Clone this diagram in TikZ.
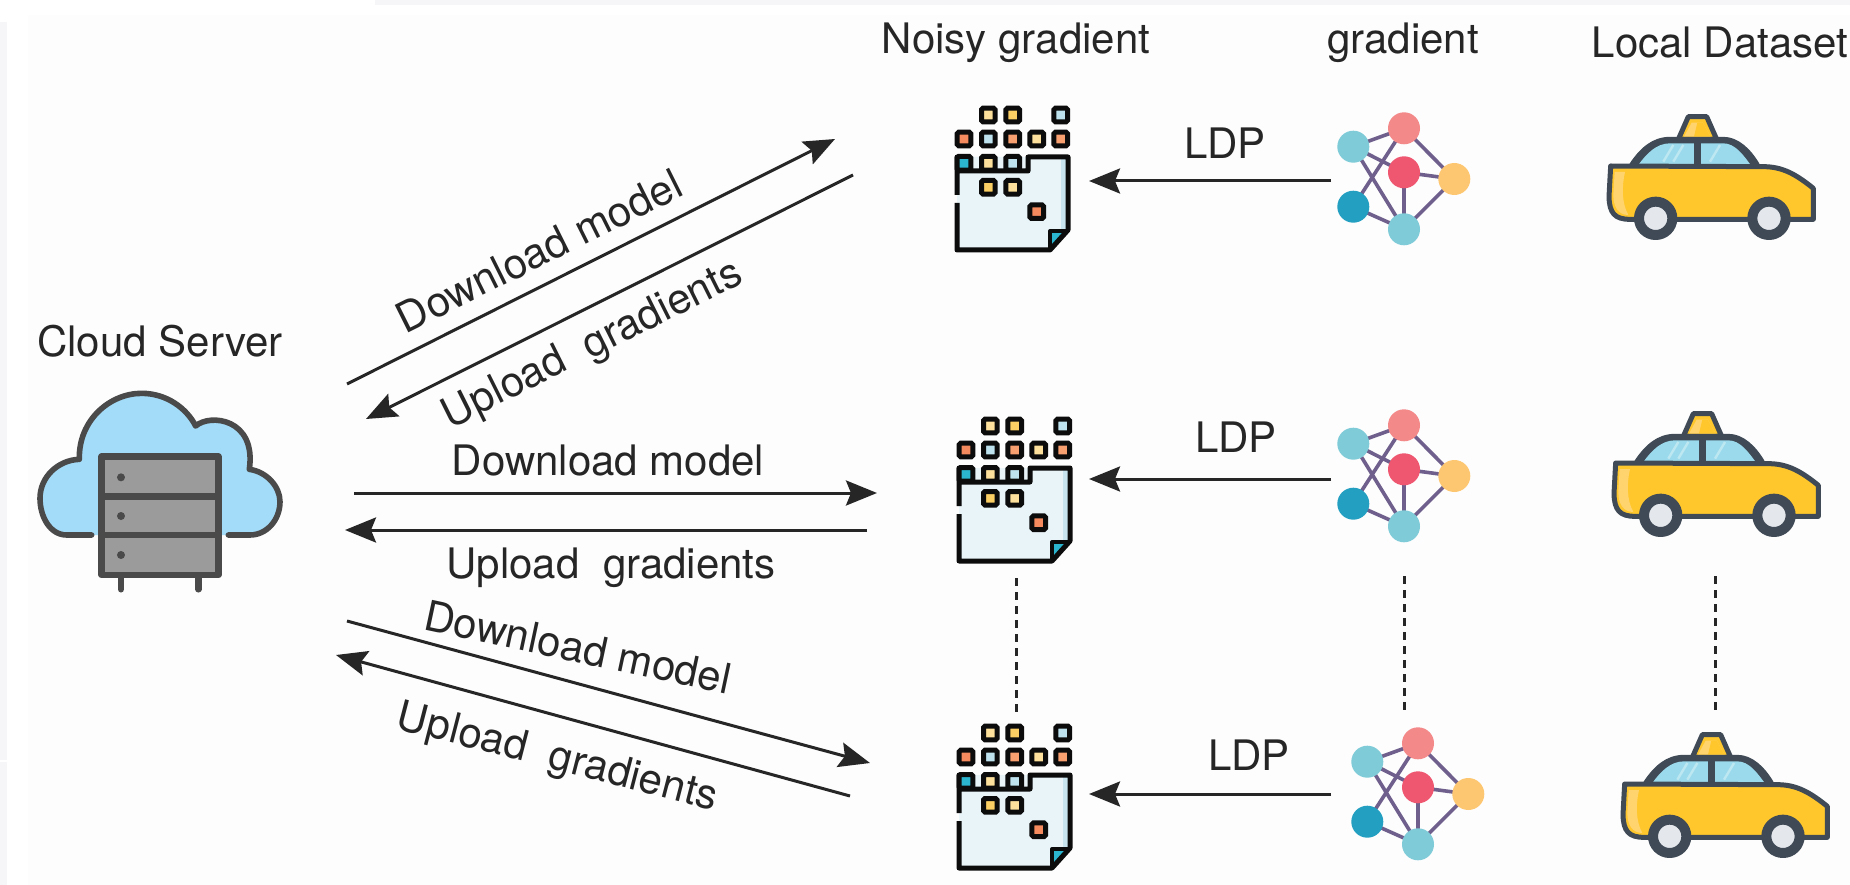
\documentclass[tikz,border=0pt]{standalone}
\usepackage{fontspec}
\setmainfont{TeX Gyre Heros}
\usetikzlibrary{arrows.meta}
\definecolor{ink}{HTML}{262626}
\definecolor{bgc}{HTML}{FDFDFD}
\definecolor{edgeg}{HTML}{F6F6F8}
\definecolor{docline}{HTML}{0C0C0C}
\definecolor{docfill}{HTML}{E9F4F9}
\definecolor{docside}{HTML}{C8E4EF}
\definecolor{teal}{HTML}{2BB5CF}
\definecolor{sqa}{HTML}{FCE09B}
\definecolor{sqb}{HTML}{FBCF63}
\definecolor{sqc}{HTML}{BEE3EF}
\definecolor{sqd}{HTML}{F58A5F}
\definecolor{sqe}{HTML}{F9A071}
\definecolor{netl}{HTML}{6E5F8C}
\definecolor{nteal}{HTML}{7FCBD8}
\definecolor{nsal}{HTML}{F4898A}
\definecolor{nred}{HTML}{EF5670}
\definecolor{nora}{HTML}{FDC772}
\definecolor{nblue}{HTML}{239FC1}
\definecolor{cab}{HTML}{FFC72C}
\definecolor{cabl}{HTML}{FFD46E}
\definecolor{cabo}{HTML}{3F4A56}
\definecolor{glass}{HTML}{9BDAEC}
\definecolor{glint}{HTML}{BDE7F1}
\definecolor{hub}{HTML}{E4E7EC}
\definecolor{cloudf}{HTML}{A3DCF8}
\definecolor{srvl}{HTML}{4A4A4A}
\definecolor{srvf}{HTML}{9B9B9B}
\newcommand{\dsq}[3]{\filldraw[docsq,fill=#3] (#1-6.8,#2-6.8) rectangle (#1+6.8,#2+6.8);}
\tikzset{
  x=1pt,y=-1pt,
  lbl/.style={inner sep=0pt,text=ink,font=\fontsize{42}{50}\selectfont},
  arrowline/.style={draw=ink,line width=3pt,-{Stealth[length=31pt,width=25pt,inset=5pt]}},
  dashline/.style={draw=ink,line width=3pt,dash pattern=on 8pt off 6pt},
  docsq/.style={draw=docline,line width=5pt,rounded corners=1.5pt},
  netedge/.style={draw=netl,line width=3.6pt},
  cabline/.style={draw=cabo,line width=5pt,line join=round},
  srv/.style={draw=srvl,line width=6.4pt,line join=round},
  doc/.pic={
    \fill[docfill] (27,67) -- (98,67) -- (138,67) -- (138,140) -- (120,160) -- (27,160) -- cycle;
    \fill[docside] (131,69) -- (136,69) -- (136,139) -- (131,141) -- cycle;
    \fill[teal] (120,160) -- (120,141) -- (138,141) -- cycle;
    \draw[draw=docline,line width=5pt,line join=round] (27,105) -- (27,67) -- (27,81) -- (98,81) -- (98,67) -- (138,67) -- (138,140) -- (120,160) -- (27,160) -- (27,113);
    \draw[draw=docline,line width=4pt,line join=round] (120,160) -- (120,141) -- (138,141);
    \dsq{58.3}{25}{sqa}\dsq{82.7}{25}{sqb}\dsq{130.7}{25}{sqc}
    \dsq{34}{49}{sqd}\dsq{58.3}{49}{sqc}\dsq{82.7}{49}{sqe}\dsq{106.7}{49}{sqa}\dsq{130.7}{49}{sqe}
    \dsq{34}{73.3}{teal}\dsq{58.3}{73.3}{sqa}\dsq{82.7}{73.3}{sqc}
    \dsq{58.3}{97.3}{sqb}\dsq{82.7}{97.3}{sqa}
    \dsq{106.7}{121.7}{sqd}
  },
  net/.pic={
    \coordinate (-tl) at (33.3,46.7);
    \coordinate (-sa) at (84,28.3);
    \coordinate (-re) at (84,72.3);
    \coordinate (-or) at (134.3,79);
    \coordinate (-bl) at (33.3,106.7);
    \coordinate (-bo) at (84,129.3);
    \draw[netedge] (-tl) -- (-sa) (-tl) -- (-re) (-tl) -- (-bo) (-bl) -- (-sa) (-bl) -- (-bo)
      (-sa) -- (-or) (-re) -- (-or) (-re) -- (-bo) (-bo) -- (-or);
    \fill[nteal] (-tl) circle (16);
    \fill[nsal] (-sa) circle (16);
    \fill[nred] (-re) circle (16);
    \fill[nora] (-or) circle (16);
    \fill[nblue] (-bl) circle (16);
    \fill[nteal] (-bo) circle (16);
  },
  taxi/.pic={
    \begin{scope}[scale=0.33333]
      \filldraw[cabline,fill=cab] (1105,50) -- (1160,50) -- (1190,118) -- (1075,118) -- cycle;
      \fill[cabl] (1115,68) -- (1148,68) -- (1172,110) -- (1092,110) -- cycle;
      \fill[cab] (1132,68) -- (1148,68) -- (1172,110) -- (1122,110) -- cycle;
      \filldraw[cabline,fill=cabo] (935,195) .. controls (965,150) and (1000,118) .. (1050,118) -- (1210,118) .. controls (1250,118) and (1285,150) .. (1312,195) -- cycle;
      \fill[glass] (955,195) .. controls (980,160) and (1010,130) .. (1050,130) -- (1122,130) -- (1122,195) -- cycle;
      \fill[glass] (1142,130) -- (1210,130) .. controls (1245,130) and (1270,165) .. (1292,195) -- (1142,195) -- cycle;
      \draw[glint,line width=2.4pt] (1030,185) -- (1060,135) (1060,185) -- (1090,135) (1170,185) -- (1200,135);
      \filldraw[cabline,fill=cab] (872,198) -- (1330,200) .. controls (1390,200) and (1430,225) .. (1480,265) -- (1480,358) -- (930,358) .. controls (885,358) and (868,340) .. (867,290) -- cycle;
      \fill[cabl] (884,216) -- (915,216) .. controls (905,260) and (905,310) .. (925,345) .. controls (895,345) and (880,320) .. (880,285) -- cycle;
      \filldraw[cabline,fill=hub,line width=10pt] (1007,355) circle (50);
      \filldraw[cabline,fill=hub,line width=10pt] (1347,355) circle (50);
      \draw[cabo,line width=7pt] (1132,195) -- (1132,125);
    \end{scope}
  },
  server/.pic={
    \begin{scope}[scale=0.33333]
      \fill[cloudf] (215,465) -- (140,465) .. controls (90,465) and (60,410) .. (60,355) .. controls (60,290) and (115,240) .. (178,238)
        .. controls (175,120) and (270,40) .. (365,40) .. controls (440,40) and (500,85) .. (527,138)
        .. controls (570,100) and (710,115) .. (688,268) .. controls (740,275) and (780,320) .. (780,365) .. controls (780,420) and (740,465) .. (690,465) -- cycle;
      \draw[srvl,line width=5.6pt,line cap=round,line join=round] (215,465) -- (140,465) .. controls (90,465) and (60,410) .. (60,355) .. controls (60,290) and (115,240) .. (178,238)
        .. controls (175,120) and (270,40) .. (365,40) .. controls (440,40) and (500,85) .. (527,138)
        .. controls (570,100) and (710,115) .. (688,268) .. controls (740,275) and (780,320) .. (780,365) .. controls (780,420) and (740,465) .. (690,465) -- (625,465);
      \draw[srv,fill=srvf] (245,230) rectangle (595,585);
      \draw[srv] (245,350) -- (595,350) (245,465) -- (595,465);
      \fill[srvl] (303,292) circle (12) (303,408) circle (12) (303,525) circle (12);
      \draw[srv,line cap=round] (303,590) -- (303,628) (535,590) -- (535,628);
    \end{scope}
  }
}
\begin{document}
\begin{tikzpicture}
\useasboundingbox (0,0) rectangle (1850,885);
\fill[white] (0,0) rectangle (1850,885);
\fill[bgc] (28,15) rectangle (1850,885);
\fill[edgeg] (0,22) rectangle (7,760);
\fill[edgeg] (0,762) rectangle (7,885);
\fill[edgeg] (375,0) rectangle (1850,5);
% icons
\pic (srvicon) at (20,380) {server};
\pic (d1) at (930,90) {doc};
\pic (d2) at (932,401) {doc};
\pic (d3) at (932,708) {doc};
\pic (n1) at (1320,100) {net};
\pic (n2) at (1320,397) {net};
\pic (n3) at (1334,715) {net};
\pic (t1) at (1320,100) {taxi};
\pic (t2) at (1325,397) {taxi};
\pic (t3) at (1334,718) {taxi};
% headers
\node[lbl] (hnoisy) at (1016,43) {Noisy gradient};
\node[lbl] (hgrad) at (1403,43) {gradient};
\node[lbl] (hlocal) at (1720,43) {Local Dataset};
\node[lbl] (hcloud) at (160,341) {Cloud Server};
% LDP
\node[lbl] (ldpa) at (1225,143) {LDP};
\node[lbl] (ldpb) at (1236,437) {LDP};
\node[lbl] (ldpc) at (1249,755) {LDP};
\coordinate (la1) at (1331,181); \coordinate (la2) at (1089,181);
\coordinate (lb1) at (1331,479); \coordinate (lb2) at (1089,479);
\coordinate (lc1) at (1331,794); \coordinate (lc2) at (1089,794);
\draw[arrowline] (la1) -- (la2);
\draw[arrowline] (lb1) -- (lb2);
\draw[arrowline] (lc1) -- (lc2);
% server arrows
\coordinate (a1s) at (347,384); \coordinate (a1e) at (835,139);
\coordinate (a2s) at (853,175); \coordinate (a2e) at (366,419);
\coordinate (b1s) at (354,493); \coordinate (b1e) at (877,493);
\coordinate (b2s) at (867,530); \coordinate (b2e) at (345,530);
\coordinate (c1s) at (347,621); \coordinate (c1e) at (870,763);
\coordinate (c2s) at (850,796); \coordinate (c2e) at (336,655);
\draw[arrowline] (a1s) -- (a1e);
\draw[arrowline] (a2s) -- (a2e);
\draw[arrowline] (b1s) -- (b1e);
\draw[arrowline] (b2s) -- (b2e);
\draw[arrowline] (c1s) -- (c1e);
\draw[arrowline] (c2s) -- (c2e);
\node[lbl,rotate=26.5] (ta1) at (539,251) {Download model};
\node[lbl,rotate=26.5] (ta2) at (593,346) {Upload\ \ gradients};
\node[lbl] (tb1) at (608,461) {Download model};
\node[lbl] (tb2) at (611,568) {Upload\ \ gradients};
\node[lbl,rotate=-12] (tc1) at (578,647) {Download model};
\node[lbl,rotate=-14.5] (tc2) at (557,759) {Upload\ \ gradients};
% dashed
\coordinate (da1) at (1016,578); \coordinate (da2) at (1016,714);
\coordinate (db1) at (1404,576); \coordinate (db2) at (1404,714);
\coordinate (dc1) at (1715,576); \coordinate (dc2) at (1715,714);
\draw[dashline] (da1) -- (da2);
\draw[dashline] (db1) -- (db2);
\draw[dashline] (dc1) -- (dc2);
\end{tikzpicture}
\end{document}
